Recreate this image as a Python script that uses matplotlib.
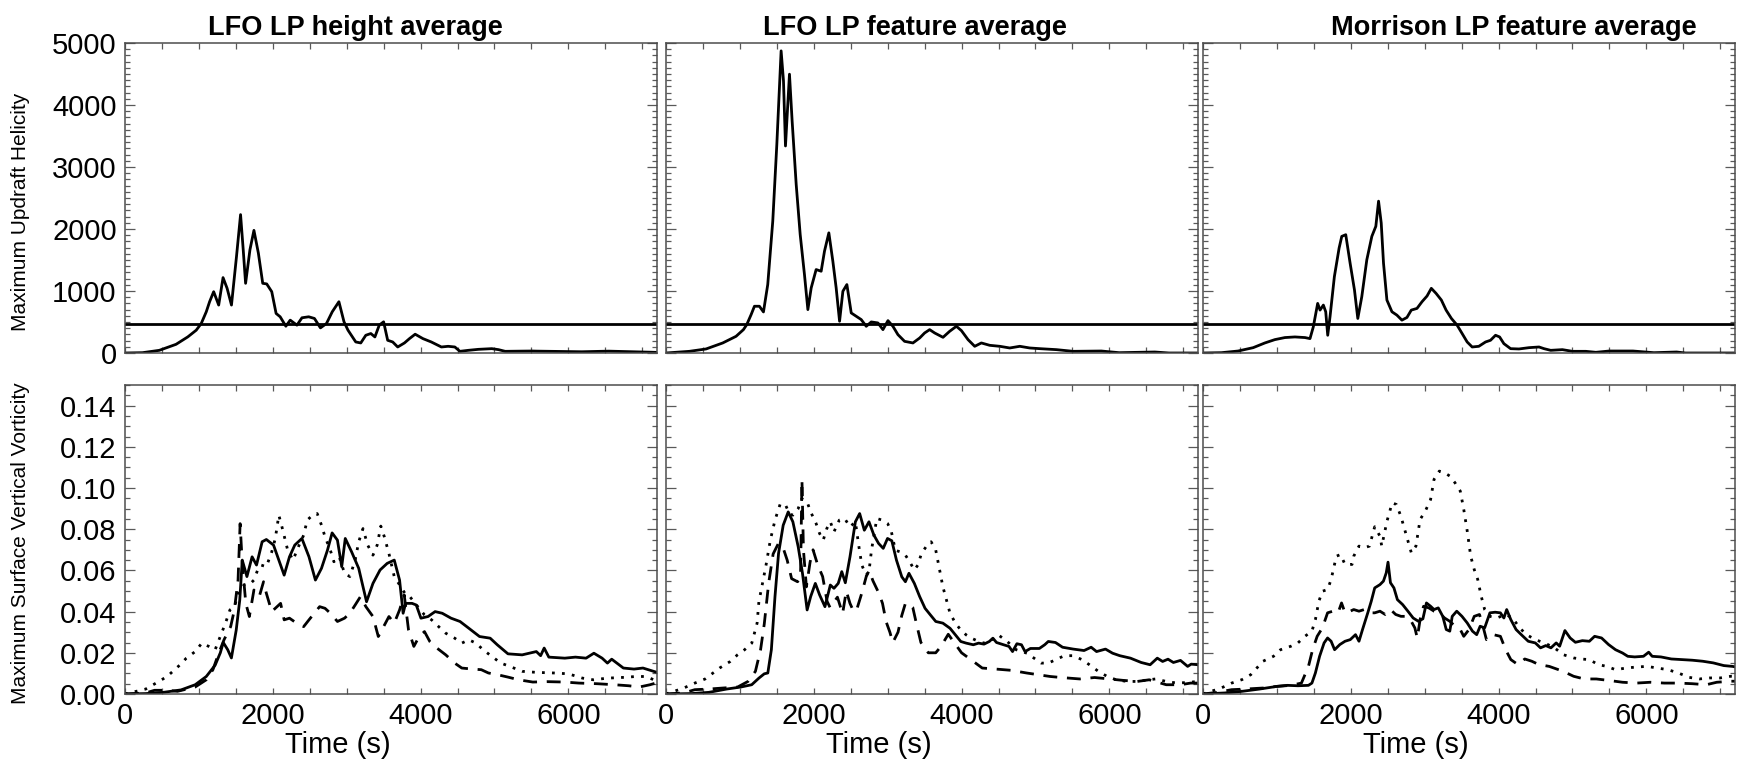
import matplotlib.pyplot as plt
from matplotlib.ticker import MultipleLocator, FormatStrFormatter

plt.rcParams['font.family'] = ['Liberation Sans', 'DejaVu Sans']

titles = ["LFO LP height average", "LFO LP feature average", "Morrison LP feature average"]
uh_ylabel = "Maximum Updraft Helicity"
vort_ylabel = "Maximum Surface Vertical Vorticity"
xlabel = "Time (s)"
uh_threshold = 460

# ---- maximum updraft helicity (top row) ----
t_uh_h = [0, 236, 464, 691, 850, 964, 1032, 1100, 1145, 1200,
          1268, 1327, 1382, 1441, 1509, 1564, 1600, 1632, 1691, 1745,
          1805, 1864, 1918, 1986, 2045, 2100, 2177, 2236, 2327, 2395,
          2486, 2564, 2645, 2727, 2805, 2895, 2964, 3018, 3123, 3191,
          3259, 3327, 3382, 3441, 3500, 3555, 3623, 3691, 3782, 3850,
          3927, 4032, 4145, 4282, 4373, 4464, 4532, 4645, 4782, 4964,
          5055, 5145, 5509, 5576, 6182, 6545, 7200]
uh_h = [0, 5, 43, 140, 260, 368, 476, 665, 827, 989,
        773, 1216, 1043, 773, 1557, 2232, 1665, 1124, 1665, 1978,
        1611, 1124, 1114, 989, 638, 584, 432, 530, 449, 568,
        584, 557, 405, 476, 665, 827, 503, 368, 178, 162,
        286, 314, 259, 449, 503, 205, 178, 97, 162, 232,
        303, 232, 178, 97, 108, 97, 27, 43, 59, 70,
        54, 27, 32, 30, 20, 30, 10]

t_uh_f = [0, 316, 542, 768, 948, 1048, 1093, 1152, 1197, 1264,
          1319, 1377, 1445, 1500, 1558, 1590, 1617, 1671, 1707, 1762,
          1816, 1874, 1920, 1965, 2032, 2100, 2145, 2204, 2258, 2303,
          2349, 2394, 2448, 2507, 2575, 2642, 2710, 2778, 2868, 2936,
          3004, 3071, 3139, 3229, 3342, 3433, 3500, 3568, 3636, 3749,
          3839, 3930, 3998, 4088, 4178, 4268, 4381, 4517, 4652, 4788,
          4923, 5059, 5285, 5510, 5892, 6133, 6615, 6808, 7200]
uh_f = [0, 27, 65, 162, 269, 377, 458, 619, 754, 754,
        662, 1104, 2127, 3366, 4873, 4389, 3339, 4497, 3743, 2719,
        1912, 1265, 700, 1050, 1346, 1319, 1642, 1938, 1481, 1050,
        512, 996, 1104, 646, 592, 539, 431, 501, 485, 377,
        522, 431, 296, 188, 162, 242, 323, 377, 323, 253,
        350, 431, 361, 215, 108, 162, 124, 108, 81, 108,
        81, 70, 54, 27, 32, 5, 16, 0, 0]

t_uh_m = [0, 249, 475, 679, 837, 973, 1109, 1244, 1380, 1448,
          1493, 1552, 1584, 1629, 1661, 1688, 1719, 1778, 1842, 1878,
          1932, 1991, 2050, 2095, 2149, 2217, 2285, 2339, 2376, 2412,
          2443, 2489, 2557, 2624, 2692, 2760, 2819, 2896, 2964, 3032,
          3090, 3154, 3226, 3290, 3362, 3439, 3507, 3575, 3643, 3733,
          3824, 3891, 3959, 4014, 4072, 4163, 4276, 4412, 4548, 4615,
          4706, 4864, 5000, 5181, 5317, 5498, 5819, 6103, 6410, 6528,
          7200]
uh_m = [0, 5, 32, 86, 162, 216, 249, 259, 249, 232,
        422, 800, 692, 773, 665, 286, 584, 1232, 1692, 1881,
        1908, 1449, 1016, 557, 908, 1503, 1881, 2043, 2449, 2097,
        1449, 854, 665, 611, 530, 573, 692, 719, 827, 919,
        1043, 962, 854, 692, 557, 449, 314, 178, 97, 108,
        178, 205, 286, 259, 151, 70, 65, 86, 97, 70,
        43, 54, 27, 27, 11, 32, 32, 5, 16, 0,
        0]

# ---- maximum surface vertical vorticity (bottom row) ----
# LFO height average
t_vs_h = [0, 280, 520, 760, 950, 1100, 1220, 1290, 1330, 1390,
          1440, 1505, 1553, 1587, 1650, 1720, 1780, 1856, 1913, 2010,
          2082, 2154, 2226, 2298, 2394, 2490, 2577, 2659, 2740, 2803,
          2875, 2933, 2981, 3067, 3163, 3221, 3269, 3356, 3452, 3548,
          3644, 3716, 3764, 3798, 3885, 3942, 4005, 4101, 4197, 4293,
          4413, 4534, 4654, 4798, 4942, 5038, 5183, 5375, 5567, 5625,
          5673, 5736, 5952, 6096, 6240, 6346, 6457, 6529, 6587, 6745,
          6889, 7010, 7154, 7200]
vs_h = [0.0, 0.0002, 0.0008, 0.002, 0.0045, 0.0085, 0.014, 0.020, 0.025, 0.0215,
        0.0175, 0.031, 0.0456, 0.065, 0.057, 0.0666, 0.0626, 0.0739, 0.075, 0.0723,
        0.065, 0.0577, 0.0666, 0.0723, 0.0755, 0.0666, 0.0553, 0.061, 0.0698, 0.0782,
        0.0747, 0.0618, 0.0755, 0.069, 0.061, 0.0521, 0.0448, 0.0537, 0.0602, 0.0634,
        0.065, 0.0553, 0.0392, 0.044, 0.044, 0.0432, 0.0368, 0.0376, 0.040, 0.0392,
        0.0368, 0.0352, 0.0319, 0.0279, 0.0271, 0.0239, 0.0195, 0.019, 0.0206, 0.0186,
        0.0223, 0.0179, 0.0174, 0.0179, 0.0174, 0.0198, 0.0174, 0.015, 0.0169, 0.0126,
        0.0121, 0.0126, 0.011, 0.0105]

t_vdot_h = [0, 280, 420, 570, 740, 830, 950, 1040, 1140, 1220,
            1290, 1360, 1420, 1480, 1550, 1615, 1700, 1745, 1795, 1840,
            1913, 1986, 2034, 2082, 2130, 2202, 2274, 2346, 2418, 2466,
            2538, 2601, 2659, 2707, 2779, 2827, 2899, 2971, 3043, 3115,
            3163, 3221, 3284, 3356, 3413, 3462, 3510, 3572, 3644, 3716,
            3788, 3837, 3909, 3981, 4053, 4149, 4245, 4341, 4462, 4558,
            4654, 4750, 4846, 4966, 5087, 5207, 5375, 5567, 5808, 6000,
            6192, 6337, 6529, 6769, 6913, 7058, 7154, 7200]
vdot_h = [0.0, 0.0024, 0.0053, 0.0085, 0.014, 0.0174, 0.0206, 0.0247, 0.023, 0.0215,
          0.028, 0.0344, 0.0408, 0.0424, 0.0505, 0.053, 0.0537, 0.0553, 0.0602, 0.0626,
          0.0618, 0.069, 0.0755, 0.0868, 0.0803, 0.0698, 0.065, 0.0714, 0.0771, 0.0844,
          0.0868, 0.0876, 0.082, 0.0763, 0.0698, 0.0642, 0.0666, 0.0586, 0.057, 0.065,
          0.0739, 0.0803, 0.0723, 0.0674, 0.0723, 0.0815, 0.0763, 0.0682, 0.057, 0.053,
          0.0489, 0.0481, 0.0448, 0.0416, 0.0384, 0.036, 0.0327, 0.0295, 0.0271, 0.0247,
          0.0263, 0.0247, 0.0215, 0.0182, 0.015, 0.0134, 0.011, 0.0105, 0.0102, 0.0098,
          0.0077, 0.0069, 0.0077, 0.0081, 0.0085, 0.0085, 0.0069, 0.007]

t_vdash_h = [0, 280, 400, 570, 710, 950, 1100, 1190, 1260, 1340,
             1430, 1480, 1530, 1558, 1587, 1635, 1683, 1745, 1817, 1875,
             1913, 1986, 2058, 2106, 2154, 2226, 2322, 2418, 2490, 2562,
             2634, 2707, 2779, 2875, 2971, 3043, 3115, 3187, 3260, 3356,
             3428, 3500, 3572, 3644, 3716, 3779, 3837, 3909, 3981, 4053,
             4125, 4221, 4341, 4462, 4558, 4702, 4822, 4918, 5038, 5183,
             5327, 5519, 5712, 5952, 6144, 6385, 6625, 6817, 6962, 7106,
             7200]
vdash_h = [0.0, 0.0005, 0.0018, 0.0018, 0.0013, 0.0034, 0.0069, 0.0118, 0.019, 0.0263,
           0.0327, 0.0408, 0.0553, 0.0827, 0.0634, 0.044, 0.0376, 0.0505, 0.0473, 0.0545,
           0.0489, 0.040, 0.0424, 0.044, 0.036, 0.0368, 0.0344, 0.0327, 0.036, 0.0392,
           0.0424, 0.0416, 0.0392, 0.0352, 0.0368, 0.0392, 0.0432, 0.0473, 0.0424, 0.0376,
           0.0279, 0.0327, 0.0376, 0.0344, 0.0408, 0.0481, 0.0311, 0.0231, 0.0279, 0.0303,
           0.0255, 0.0223, 0.019, 0.015, 0.0126, 0.0121, 0.0118, 0.0102, 0.0094, 0.0082,
           0.0069, 0.0058, 0.006, 0.0058, 0.0053, 0.005, 0.0045, 0.004, 0.0034, 0.0045,
           0.0055]

# LFO feature average
t_vs_f = [0, 340, 580, 820, 1015, 1160, 1257, 1330, 1378, 1426,
          1475, 1523, 1586, 1654, 1717, 1789, 1847, 1910, 1958, 2021,
          2079, 2151, 2224, 2273, 2331, 2379, 2427, 2490, 2563, 2621,
          2684, 2747, 2814, 2877, 2940, 2998, 3056, 3119, 3191, 3240,
          3288, 3361, 3433, 3506, 3578, 3651, 3747, 3844, 3917, 3989,
          4062, 4159, 4231, 4304, 4376, 4424, 4473, 4569, 4642, 4690,
          4749, 4811, 4859, 4932, 5053, 5125, 5174, 5271, 5367, 5512,
          5658, 5754, 5827, 5948, 6044, 6141, 6286, 6431, 6552, 6649,
          6721, 6794, 6867, 6963, 7060, 7108, 7200]
vs_f = [0.0, 0.0002, 0.0008, 0.0024, 0.0034, 0.0045, 0.0077, 0.0098, 0.0102, 0.0215,
        0.0473, 0.0682, 0.0819, 0.0884, 0.0836, 0.0715, 0.0586, 0.0408, 0.0473, 0.0537,
        0.0481, 0.0424, 0.0529, 0.0513, 0.0537, 0.0594, 0.054, 0.0666, 0.0836, 0.0876,
        0.0795, 0.0836, 0.0771, 0.0731, 0.0707, 0.0755, 0.0744, 0.065, 0.0569, 0.0545,
        0.0586, 0.0537, 0.0473, 0.0416, 0.0384, 0.0352, 0.0344, 0.0319, 0.0287, 0.0255,
        0.0247, 0.0239, 0.0247, 0.0242, 0.0255, 0.0271, 0.025, 0.0239, 0.0231, 0.0206,
        0.0244, 0.0239, 0.0206, 0.0221, 0.0221, 0.0239, 0.0255, 0.025, 0.0227, 0.0218,
        0.0211, 0.0227, 0.0206, 0.0218, 0.0198, 0.0186, 0.0174, 0.0153, 0.0142, 0.0174,
        0.0158, 0.0169, 0.0153, 0.0163, 0.0134, 0.0145, 0.0142]

t_vdot_f = [0, 240, 390, 530, 725, 870, 967, 1064, 1161, 1233,
            1257, 1306, 1354, 1412, 1475, 1547, 1620, 1668, 1717, 1789,
            1838, 1910, 1958, 2031, 2079, 2128, 2176, 2224, 2273, 2345,
            2418, 2490, 2563, 2611, 2650, 2708, 2747, 2781, 2853, 2926,
            2998, 3046, 3104, 3167, 3240, 3298, 3361, 3409, 3457, 3520,
            3588, 3651, 3699, 3747, 3796, 3844, 3917, 3989, 4062, 4134,
            4231, 4304, 4424, 4497, 4618, 4739, 4884, 4981, 5077, 5174,
            5271, 5391, 5512, 5634, 5730, 5851, 5972, 6093, 6238, 6383,
            6528, 6625, 6770, 6915, 7060, 7200]
vdot_f = [0.0, 0.0029, 0.0053, 0.0073, 0.0126, 0.0158, 0.019, 0.0215, 0.0247, 0.0344,
          0.0448, 0.0537, 0.0626, 0.0747, 0.0844, 0.0924, 0.0916, 0.0876, 0.0868, 0.090,
          0.0948, 0.0932, 0.0884, 0.0828, 0.0779, 0.0747, 0.0803, 0.0836, 0.0787, 0.0844,
          0.0852, 0.0811, 0.0836, 0.0715, 0.0626, 0.0577, 0.0594, 0.0698, 0.0852, 0.0844,
          0.0828, 0.0795, 0.0698, 0.069, 0.0674, 0.0642, 0.0602, 0.0626, 0.0682, 0.0715,
          0.0739, 0.0698, 0.061, 0.0521, 0.0456, 0.0392, 0.0344, 0.0311, 0.0287, 0.0271,
          0.0255, 0.0247, 0.0266, 0.0287, 0.0255, 0.0215, 0.0198, 0.0174, 0.015, 0.015,
          0.0166, 0.0186, 0.0186, 0.0166, 0.0142, 0.011, 0.0085, 0.0069, 0.0061, 0.0061,
          0.0069, 0.0073, 0.0061, 0.0053, 0.0056, 0.0061]

t_vdash_f = [0, 240, 390, 580, 770, 970, 1110, 1210, 1280, 1330,
             1390, 1450, 1520, 1580, 1640, 1700, 1780, 1820, 1840, 1860,
             1900, 1950, 1990, 2050, 2120, 2180, 2220, 2320, 2390, 2440,
             2490, 2540, 2590, 2650, 2710, 2750, 2800, 2880, 2930, 2980,
             3030, 3070, 3140, 3190, 3240, 3280, 3340, 3390, 3450, 3550,
             3650, 3720, 3820, 3900, 4000, 4130, 4280, 4500, 4670, 4880,
             5030, 5200, 5350, 5600, 5800, 6000, 6190, 6380, 6540, 6770,
             6960, 7100, 7200]
vdash_f = [0.0, 0.0005, 0.0021, 0.0024, 0.0029, 0.0034, 0.0061, 0.011, 0.0215, 0.034,
           0.054, 0.068, 0.073, 0.0715, 0.065, 0.056, 0.0545, 0.056, 0.104, 0.07,
           0.052, 0.064, 0.07, 0.063, 0.057, 0.045, 0.042, 0.047, 0.039, 0.05,
           0.044, 0.04, 0.042, 0.049, 0.057, 0.06, 0.055, 0.049, 0.044, 0.035,
           0.03, 0.025, 0.03, 0.038, 0.044, 0.044, 0.042, 0.034, 0.025, 0.02,
           0.02, 0.023, 0.029, 0.025, 0.02, 0.0166, 0.0126, 0.012, 0.0115, 0.0102,
           0.0094, 0.0085, 0.008, 0.0073, 0.008, 0.0073, 0.0066, 0.0061, 0.0069, 0.0045,
           0.0045, 0.0053, 0.0053]

# Morrison feature average
t_vs_m = [0, 293, 529, 765, 1001, 1143, 1285, 1427, 1474, 1521,
          1578, 1639, 1686, 1734, 1781, 1852, 1922, 1993, 2064, 2111,
          2159, 2230, 2277, 2324, 2395, 2442, 2480, 2504, 2537, 2584,
          2631, 2702, 2773, 2844, 2915, 2976, 3024, 3080, 3127, 3184,
          3245, 3292, 3340, 3373, 3434, 3505, 3576, 3647, 3704, 3751,
          3812, 3883, 3954, 4025, 4072, 4110, 4166, 4237, 4308, 4402,
          4497, 4568, 4639, 4709, 4780, 4827, 4898, 4969, 5040, 5134,
          5229, 5300, 5394, 5489, 5583, 5678, 5749, 5843, 5961, 6032,
          6079, 6197, 6339, 6481, 6622, 6764, 6906, 7048, 7166, 7200]
vs_m = [0.0, 0.0005, 0.0013, 0.0024, 0.0037, 0.0042, 0.004, 0.0042, 0.0053, 0.0102,
        0.0183, 0.0248, 0.0272, 0.0256, 0.0215, 0.024, 0.0256, 0.0264, 0.0288, 0.0256,
        0.0313, 0.0394, 0.045, 0.0515, 0.0531, 0.0548, 0.0588, 0.064, 0.054, 0.0515,
        0.0458, 0.0434, 0.0402, 0.0369, 0.0353, 0.0365, 0.0442, 0.0426, 0.041, 0.0418,
        0.0377, 0.0313, 0.0305, 0.0377, 0.0402, 0.0377, 0.0345, 0.0305, 0.0288, 0.0329,
        0.0321, 0.0394, 0.0397, 0.0394, 0.0369, 0.041, 0.0361, 0.0313, 0.0288, 0.0256,
        0.0248, 0.0224, 0.0235, 0.0224, 0.0248, 0.0232, 0.0308, 0.0272, 0.0251, 0.0259,
        0.0256, 0.028, 0.0272, 0.024, 0.0215, 0.0199, 0.0183, 0.018, 0.0183, 0.0203,
        0.0183, 0.018, 0.017, 0.0167, 0.0164, 0.0159, 0.0151, 0.0138, 0.0134, 0.0132]

t_vdot_m = [0, 246, 387, 529, 647, 812, 954, 1049, 1190, 1285,
            1379, 1474, 1521, 1568, 1616, 1686, 1734, 1805, 1861, 1922,
            2017, 2040, 2111, 2182, 2253, 2324, 2395, 2419, 2490, 2560,
            2617, 2678, 2749, 2820, 2882, 2938, 3009, 3080, 3127, 3198,
            3269, 3340, 3411, 3482, 3529, 3576, 3623, 3671, 3718, 3765,
            3812, 3883, 3977, 4096, 4190, 4285, 4379, 4497, 4639, 4757,
            4875, 5016, 5110, 5229, 5347, 5465, 5583, 5725, 5867, 6008,
            6150, 6292, 6434, 6575, 6717, 6859, 7001, 7143, 7200]
vdot_m = [0.0, 0.0029, 0.0053, 0.007, 0.0094, 0.0159, 0.0183, 0.0215, 0.0232, 0.0248,
          0.028, 0.0305, 0.0361, 0.045, 0.0499, 0.0507, 0.0556, 0.0669, 0.0677, 0.0629,
          0.0629, 0.0669, 0.0718, 0.071, 0.0718, 0.0812, 0.0766, 0.0718, 0.0839, 0.0928,
          0.092, 0.0863, 0.0774, 0.0685, 0.0718, 0.0847, 0.0888, 0.0944, 0.1042, 0.1082,
          0.1074, 0.1058, 0.1025, 0.0985, 0.0896, 0.0791, 0.0669, 0.0604, 0.0556, 0.0475,
          0.041, 0.0377, 0.0369, 0.0386, 0.0369, 0.0321, 0.0288, 0.0264, 0.0245, 0.0224,
          0.0191, 0.0175, 0.017, 0.0167, 0.0143, 0.0134, 0.0118, 0.0126, 0.0131, 0.0134,
          0.0126, 0.0118, 0.0102, 0.0081, 0.0073, 0.0078, 0.0078, 0.0086, 0.0086]

t_vdash_m = [0, 198, 387, 576, 812, 1001, 1190, 1332, 1427, 1483,
             1545, 1616, 1686, 1757, 1828, 1875, 1922, 1993, 2040, 2111,
             2182, 2253, 2324, 2395, 2466, 2537, 2608, 2679, 2749, 2806,
             2867, 2900, 2938, 2985, 3056, 3127, 3198, 3269, 3340, 3411,
             3482, 3529, 3600, 3671, 3742, 3789, 3836, 3931, 4025, 4096,
             4166, 4261, 4355, 4450, 4544, 4686, 4875, 5016, 5158, 5323,
             5489, 5678, 5867, 6055, 6244, 6434, 6622, 6811, 6953, 7143,
             7200]
vdash_m = [0.0, 0.0008, 0.0021, 0.0024, 0.0029, 0.0037, 0.0042, 0.0053, 0.0134, 0.0215,
           0.028, 0.0321, 0.0394, 0.0402, 0.0394, 0.0442, 0.0394, 0.0402, 0.041, 0.0402,
           0.041, 0.0394, 0.0394, 0.0402, 0.0386, 0.041, 0.0386, 0.0377, 0.0377, 0.0361,
           0.0321, 0.0272, 0.0361, 0.0426, 0.0418, 0.0402, 0.0394, 0.0369, 0.0353, 0.0329,
           0.0313, 0.028, 0.0313, 0.0377, 0.0386, 0.0329, 0.0264, 0.0288, 0.028, 0.0215,
           0.0167, 0.0143, 0.017, 0.0159, 0.0143, 0.0134, 0.011, 0.0086, 0.0073, 0.0073,
           0.0066, 0.0057, 0.0053, 0.0057, 0.0053, 0.0053, 0.005, 0.0045, 0.0057, 0.0062,
           0.0062]

uh_series = [(t_uh_h, uh_h), (t_uh_f, uh_f), (t_uh_m, uh_m)]
vort_series = [
    [(t_vs_h, vs_h), (t_vdash_h, vdash_h), (t_vdot_h, vdot_h)],
    [(t_vs_f, vs_f), (t_vdash_f, vdash_f), (t_vdot_f, vdot_f)],
    [(t_vs_m, vs_m), (t_vdash_m, vdash_m), (t_vdot_m, vdot_m)],
]
line_styles = ['-', (0, (5, 3.5)), (0, (1, 2.6))]

# figure layout in pixels
W, H = 1739, 768
fig = plt.figure(figsize=(W / 100, H / 100), dpi=100)
lefts = [125, 666, 1203]
pw = 532
rows = [(43, 353), (385, 694)]  # (top, bottom) pixel rows


def style_axes(ax, ymaj, ymin):
    ax.set_xlim(0, 7200)
    ax.xaxis.set_major_locator(MultipleLocator(2000))
    ax.xaxis.set_minor_locator(MultipleLocator(500))
    ax.yaxis.set_major_locator(MultipleLocator(ymaj))
    ax.yaxis.set_minor_locator(MultipleLocator(ymin))
    ax.tick_params(which='both', direction='in', top=True, right=True,
                   color='0.35', width=0.9, labelsize=21, pad=6)
    ax.tick_params(axis='y', which='major', length=7)
    ax.tick_params(axis='y', which='minor', length=3.5)
    ax.tick_params(axis='x', which='both', length=4)
    for sp in ax.spines.values():
        sp.set_color('0.3')
        sp.set_linewidth(1.1)


for i in range(3):
    x0 = lefts[i] / W
    # top row: updraft helicity
    top, bot = rows[0]
    ax = fig.add_axes([x0, 1 - bot / H, pw / W, (bot - top) / H])
    t, v = uh_series[i]
    ax.plot(t, v, color='black', lw=2.0)
    ax.axhline(uh_threshold, color='black', lw=2.0)
    ax.set_ylim(0, 5000)
    style_axes(ax, 1000, 100)
    ax.tick_params(labelbottom=False)
    if i == 0:
        ax.set_ylabel(uh_ylabel, fontsize=15)
        ax.yaxis.set_label_coords(-0.178, 0.455)
    else:
        ax.tick_params(labelleft=False)

    # bottom row: surface vertical vorticity
    top, bot = rows[1]
    ax = fig.add_axes([x0, 1 - bot / H, pw / W, (bot - top) / H])
    for (t, v), ls in zip(vort_series[i], line_styles):
        ax.plot(t, v, color='black', lw=2.0, linestyle=ls)
    ax.set_ylim(0, 0.15)
    style_axes(ax, 0.02, 0.005)
    ax.yaxis.set_major_formatter(FormatStrFormatter('%.2f'))
    ax.set_xlabel(xlabel, fontsize=21)
    ax.xaxis.set_label_coords(0.40, -0.12)
    if i == 0:
        ax.set_ylabel(vort_ylabel, fontsize=15)
        ax.yaxis.set_label_coords(-0.178, 0.487)
    else:
        ax.tick_params(labelleft=False)

# panel titles (not centred on the panels in the original)
title_x = [355, 915, 1514]
for tx, title in zip(title_x, titles):
    fig.text(tx / W, 1 - 35 / H, title, ha='center', va='baseline',
             fontsize=19.5, fontweight='bold')

fig.savefig('out.png', dpi=100)
